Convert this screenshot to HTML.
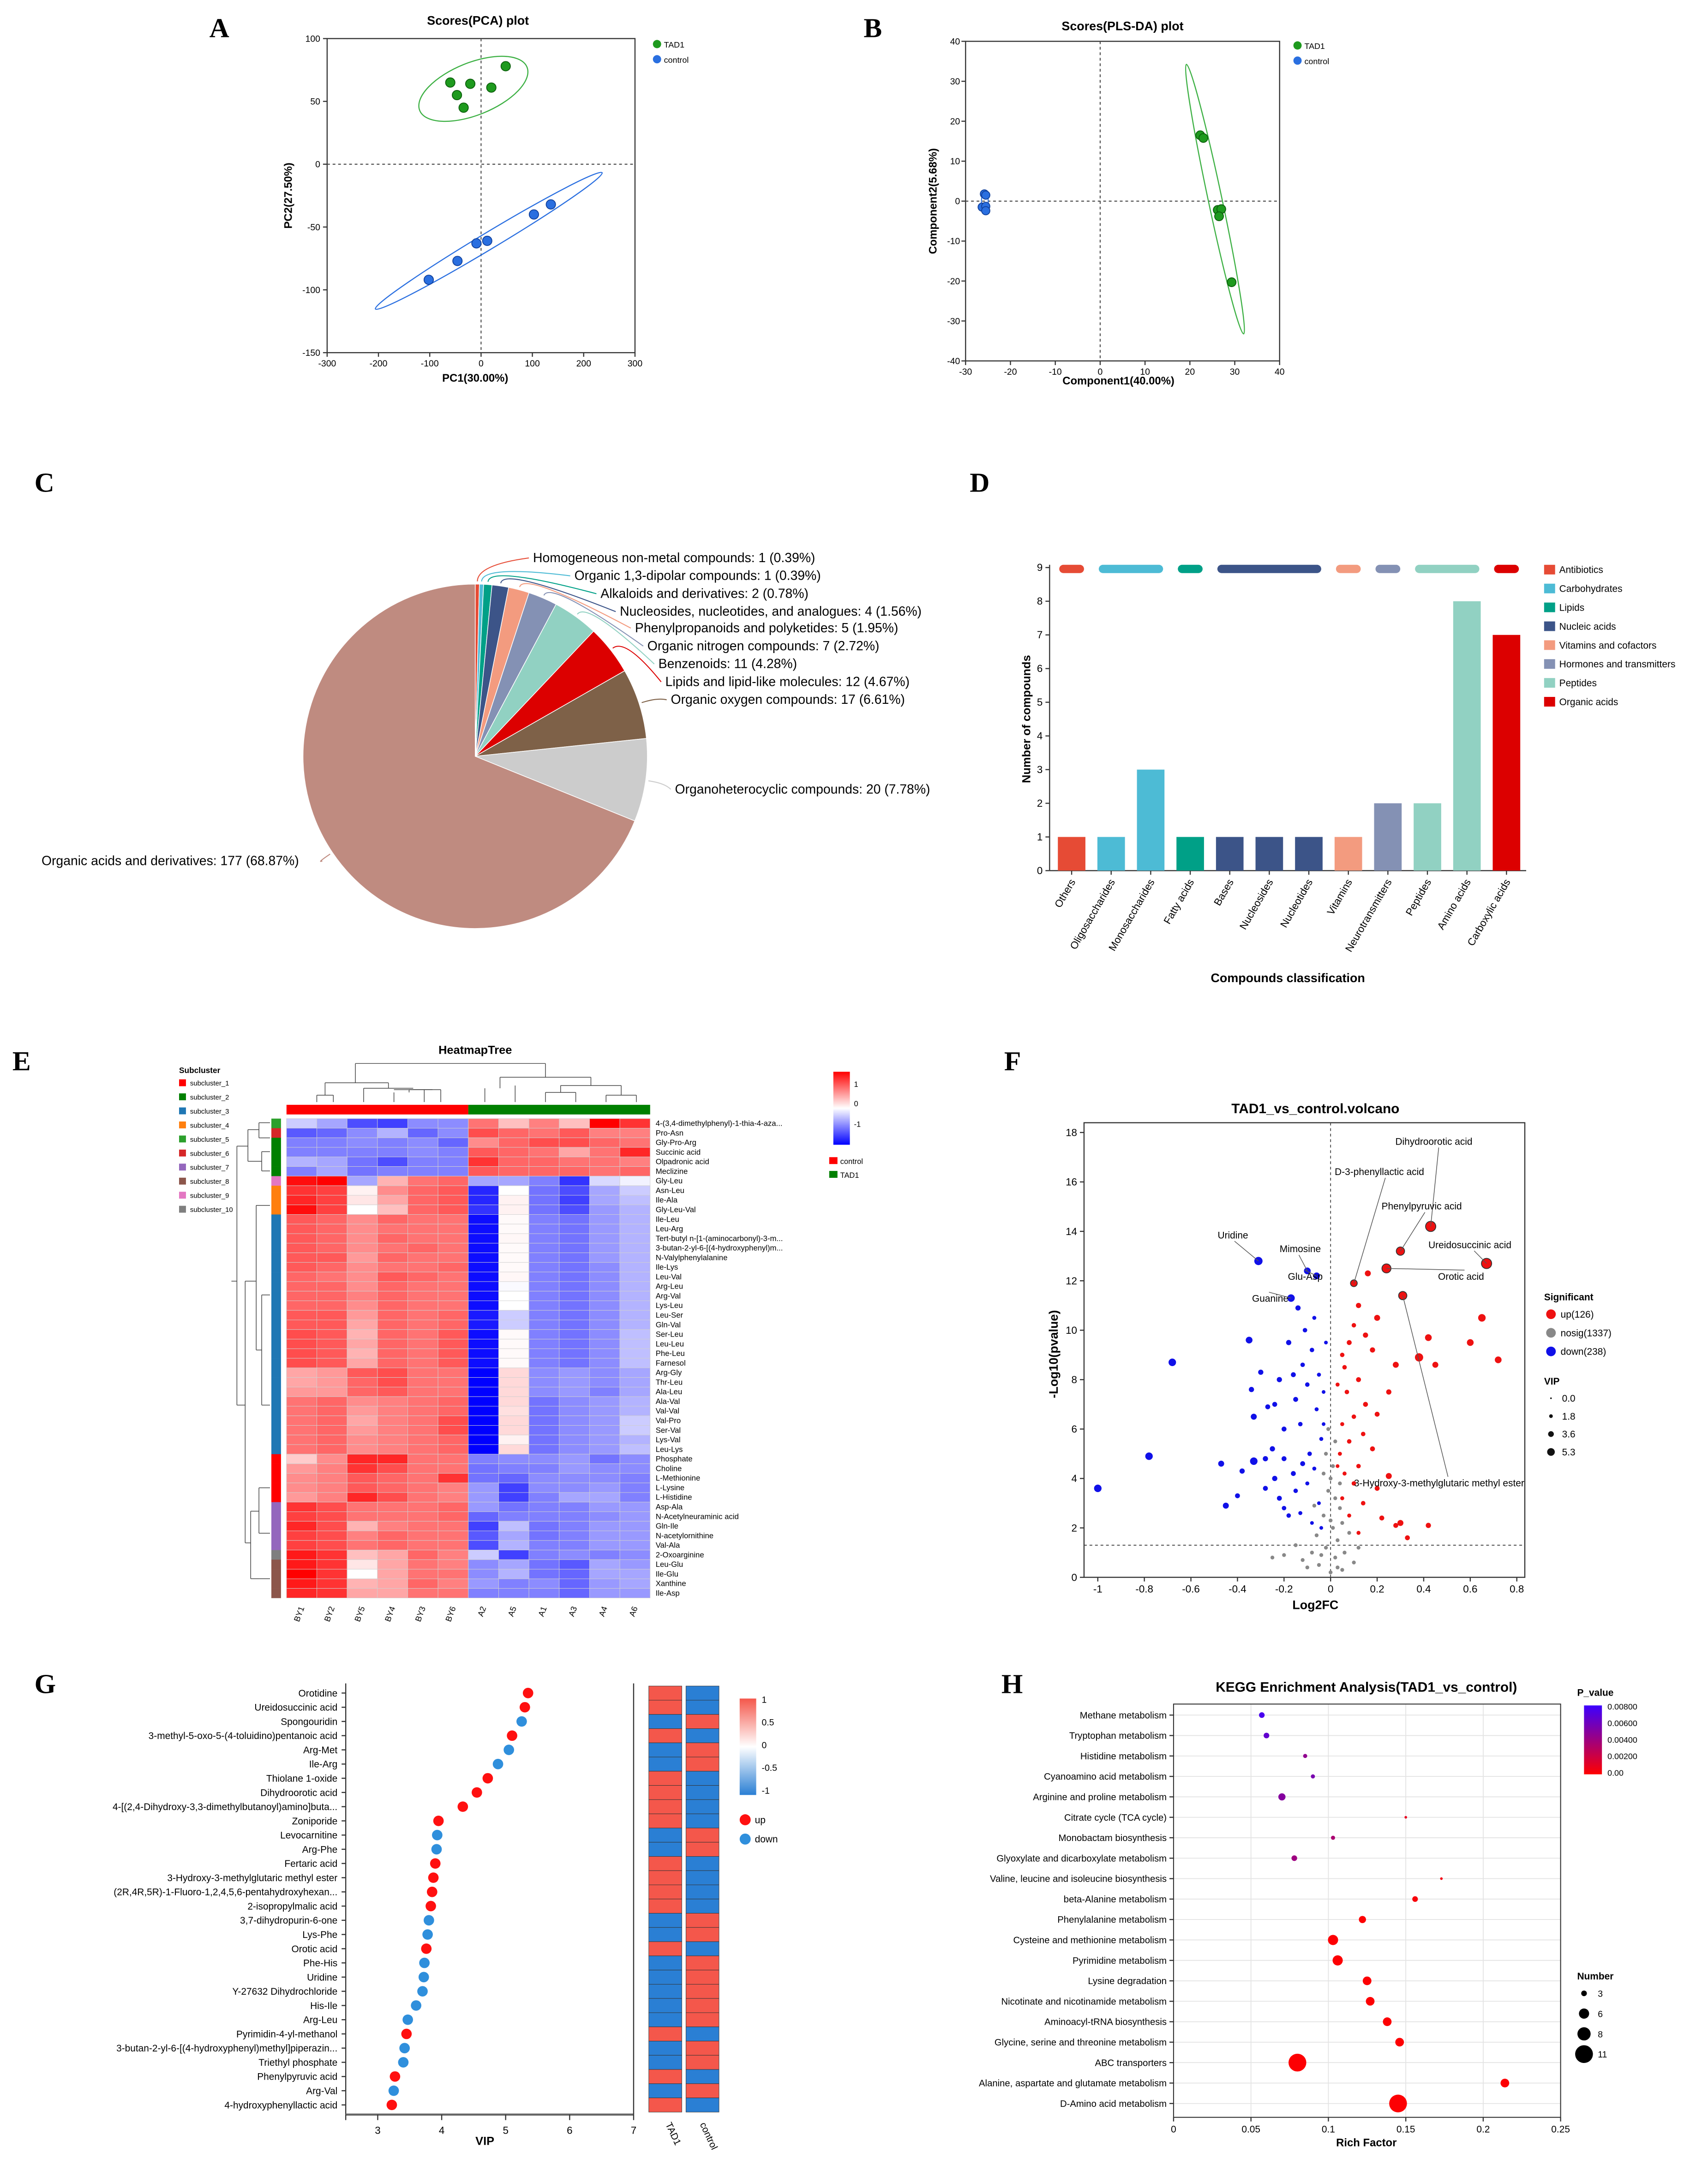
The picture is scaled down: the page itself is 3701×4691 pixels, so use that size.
<!DOCTYPE html>
<html><head><meta charset="utf-8"><style>
html,body{margin:0;padding:0;background:#fff;}
svg{display:block;font-family:"Liberation Sans",Arial,sans-serif;}
</style></head><body>
<svg id="fig" xmlns="http://www.w3.org/2000/svg" width="3701" height="4691" viewBox="0 0 1240 1571.6" preserveAspectRatio="none">
<rect x="0" y="0" width="1240" height="1571.6" fill="#fff"/>
<g font-family="Liberation Serif, serif" font-weight="bold" font-size="20">
<text x="152" y="27">A</text>
<text x="627" y="27">B</text>
<text x="25" y="357">C</text>
<text x="704" y="357">D</text>
<text x="9" y="777">E</text>
<text x="729" y="777">F</text>
<text x="25" y="1229">G</text>
<text x="727" y="1229">H</text>
</g>
</svg>
<script>
// ---------- Panel A data ----------
const pcaTadX=[-60,-47,-21,-34,20,48];
const pcaTadY=[65,55,64,45,61,78];
const pcaCtrlX=[-102,-46,-9,12,103,136];
const pcaCtrlY=[-92,-77,-63,-61,-40,-32];
const pcaXTicks=[-300,-200,-100,0,100,200,300];
const pcaYTicks=[-150,-100,-50,0,50,100];
// ---------- Panel B data ----------
const plsTadX=[22.3,23,26.2,27,26.5,29.3];
const plsTadY=[16.5,15.8,-2.2,-2,-3.8,-20.3];
const plsCtrlX=[-25.8,-25.5,-26.3,-25.5,-25.5];
const plsCtrlY=[1.8,1.5,-1.5,-1.3,-2.4];
const plsXTicks=[-30,-20,-10,0,10,20,30,40];
const plsYTicks=[-40,-30,-20,-10,0,10,20,30,40];
// ---------- Panel C data ----------
const pieLabels=["Homogeneous non-metal compounds: 1 (0.39%)","Organic 1,3-dipolar compounds: 1 (0.39%)","Alkaloids and derivatives: 2 (0.78%)","Nucleosides, nucleotides, and analogues: 4 (1.56%)","Phenylpropanoids and polyketides: 5 (1.95%)","Organic nitrogen compounds: 7 (2.72%)","Benzenoids: 11 (4.28%)","Lipids and lipid-like molecules: 12 (4.67%)","Organic oxygen compounds: 17 (6.61%)","Organoheterocyclic compounds: 20 (7.78%)","Organic acids and derivatives: 177 (68.87%)"];
const pieValues=[1,1,2,4,5,7,11,12,17,20,177];
const pieColors=['#e64b35','#4dbbd5','#00a087','#3c5488','#f39b7f','#8491b4','#91d1c2','#dc0000','#7e6148','#cccccc','#bf8b80'];
// ---------- Panel D data ----------
const barCats=["Others","Oligosaccharides","Monosaccharides","Fatty acids","Bases","Nucleosides","Nucleotides","Vitamins","Neurotransmitters","Peptides","Amino acids","Carboxylic acids"];
const barValues=[1,1,3,1,1,1,1,1,2,2,8,7];
const barGroup=[0,1,1,2,3,3,3,4,5,6,6,7];
const groupNames=["Antibiotics","Carbohydrates","Lipids","Nucleic acids","Vitamins and cofactors","Hormones and transmitters","Peptides","Organic acids"];
const groupColors=['#e64b35','#4dbbd5','#00a087','#3c5488','#f39b7f','#8491b4','#91d1c2','#dc0000'];
const barYTicks=[0,1,2,3,4,5,6,7,8,9];
// ---------- Panel E data ----------
const hmCols=["BY1","BY2","BY5","BY4","BY3","BY6","A2","A5","A1","A3","A4","A6"];
const hmRows=["4-(3,4-dimethylphenyl)-1-thia-4-aza...","Pro-Asn","Gly-Pro-Arg","Succinic acid","Olpadronic acid","Meclizine","Gly-Leu","Asn-Leu","Ile-Ala","Gly-Leu-Val","Ile-Leu","Leu-Arg","Tert-butyl n-[1-(aminocarbonyl)-3-m...","3-butan-2-yl-6-[(4-hydroxyphenyl)m...","N-Valylphenylalanine","Ile-Lys","Leu-Val","Arg-Leu","Arg-Val","Lys-Leu","Leu-Ser","Gln-Val","Ser-Leu","Leu-Leu","Phe-Leu","Farnesol","Arg-Gly","Thr-Leu","Ala-Leu","Ala-Val","Val-Val","Val-Pro","Ser-Val","Lys-Val","Leu-Lys","Phosphate","Choline","L-Methionine","L-Lysine","L-Histidine","Asp-Ala","N-Acetylneuraminic acid","Gln-Ile","N-acetylornithine","Val-Ala","2-Oxoarginine","Leu-Glu","Ile-Glu","Xanthine","Ile-Asp"];
const hmCluster=[5,6,2,2,2,2,9,4,4,4,3,3,3,3,3,3,3,3,3,3,3,3,3,3,3,3,3,3,3,3,3,3,3,3,3,1,1,1,1,1,7,7,7,7,7,10,8,8,8,8];
const hmValues=[
[-.2,-.35,-.7,-.75,-.45,-.45,.55,.25,.5,.25,1,.8],
[-.65,-.6,-.45,-.3,-.6,-.45,.7,.6,.55,.65,.5,.5],
[-.5,-.5,-.45,-.5,-.45,-.6,.45,.6,.7,.7,.6,.55],
[-.5,-.5,-.5,-.5,-.45,-.5,.65,.6,.55,.35,.55,.85],
[-.3,-.35,-.55,-.7,-.5,-.5,.8,.6,.6,.55,.55,.5],
[-.5,-.35,-.55,-.5,-.5,-.5,.65,.6,.6,.6,.55,.6],
[.95,1,-.35,.3,.55,.6,-.35,-.35,-.5,-.8,-.15,-.05],
[.8,.75,.05,.45,.6,.65,-.85,0,-.55,-.7,-.35,-.2],
[.85,.75,.1,.35,.6,.65,-.85,.05,-.55,-.75,-.35,-.25],
[.95,.75,0,.25,.6,.65,-.8,.05,-.55,-.7,-.4,-.3],
[.65,.6,.45,.6,.55,.55,-.95,.02,-.5,-.55,-.4,-.3],
[.65,.6,.45,.55,.55,.55,-.95,.02,-.5,-.55,-.4,-.3],
[.65,.6,.45,.6,.55,.55,-.95,.03,-.5,-.55,-.4,-.3],
[.65,.6,.45,.55,.6,.55,-.95,.02,-.5,-.55,-.4,-.3],
[.65,.65,.4,.6,.55,.55,-.95,.02,-.5,-.55,-.4,-.3],
[.65,.6,.45,.55,.55,.6,-.95,.02,-.5,-.55,-.45,-.3],
[.6,.55,.45,.65,.6,.55,-.95,.03,-.5,-.55,-.45,-.3],
[.6,.6,.45,.6,.55,.55,-.95,-.02,-.5,-.55,-.45,-.3],
[.6,.6,.5,.6,.55,.55,-.95,0,-.5,-.55,-.45,-.3],
[.6,.6,.45,.6,.55,.55,-.95,0,-.5,-.55,-.45,-.3],
[.65,.65,.4,.6,.55,.6,-.9,-.2,-.5,-.55,-.45,-.3],
[.65,.65,.35,.6,.55,.6,-.9,-.2,-.5,-.55,-.45,-.3],
[.7,.65,.3,.6,.55,.65,-.95,.02,-.5,-.55,-.45,-.25],
[.7,.65,.35,.6,.55,.65,-.95,.02,-.5,-.55,-.45,-.25],
[.7,.65,.3,.6,.55,.65,-.95,.02,-.5,-.55,-.45,-.25],
[.7,.65,.35,.6,.55,.65,-.95,.02,-.5,-.55,-.45,-.25],
[.35,.4,.65,.7,.55,.55,-1,.15,-.45,-.4,-.45,-.35],
[.35,.4,.6,.7,.55,.55,-1,.15,-.45,-.4,-.45,-.35],
[.4,.4,.6,.65,.55,.55,-1,.15,-.45,-.4,-.5,-.35],
[.55,.6,.45,.5,.55,.6,-1,.15,-.55,-.45,-.4,-.3],
[.55,.6,.4,.5,.55,.6,-1,.12,-.55,-.45,-.4,-.3],
[.55,.6,.35,.5,.55,.7,-1,.15,-.55,-.45,-.4,-.2],
[.55,.6,.4,.5,.55,.7,-1,.15,-.55,-.45,-.4,-.2],
[.55,.6,.45,.5,.55,.6,-1,.05,-.55,-.45,-.4,-.3],
[.55,.6,.45,.5,.55,.6,-1,.15,-.55,-.45,-.4,-.25],
[.2,.45,.85,.85,.55,.55,-.5,-.45,-.45,-.4,-.55,-.45],
[.4,.5,.8,.7,.55,.55,-.55,-.5,-.5,-.4,-.45,-.45],
[.45,.5,.65,.6,.55,.8,-.55,-.6,-.45,-.45,-.45,-.5],
[.45,.5,.65,.6,.55,.5,-.4,-.75,-.45,-.45,-.4,-.5],
[.4,.5,.85,.7,.55,.5,-.4,-.75,-.5,-.35,-.35,-.5],
[.8,.7,.55,.55,.55,.6,-.4,-.55,-.5,-.5,-.4,-.4],
[.75,.7,.55,.55,.55,.6,-.6,-.5,-.5,-.5,-.45,-.4],
[.85,.7,.3,.5,.55,.55,-.75,-.25,-.55,-.5,-.4,-.4],
[.75,.7,.5,.6,.55,.55,-.65,-.35,-.55,-.5,-.4,-.4],
[.75,.7,.55,.6,.55,.55,-.7,-.3,-.5,-.5,-.4,-.4],
[.9,.8,.25,.35,.6,.5,-.2,-.75,-.5,-.45,-.5,-.45],
[.9,.8,.1,.35,.55,.5,-.45,-.35,-.55,-.65,-.35,-.4],
[1,.8,0,.35,.55,.55,-.45,-.3,-.55,-.6,-.35,-.35],
[.9,.8,.3,.35,.6,.5,-.4,-.5,-.45,-.6,-.4,-.35],
[.85,.8,.35,.35,.55,.55,-.5,-.5,-.5,-.6,-.4,-.4]];
const clusterColors=['#ff0000','#008000','#1f77b4','#ff7f0e','#2ca02c','#d62728','#9467bd','#8c564b','#e377c2','#7f7f7f'];
// ---------- Panel F data ----------
const upX=[0.43,0.1,0.3,0.67,0.24,0.31,0.65,0.6,0.72,0.45,0.42,0.38,0.28,0.2,0.15,0.12,0.1,0.08,0.05,0.18,0.12,0.07,0.15,0.2,0.1,0.05,0.14,0.08,0.18,0.04,0.12,0.06,0.25,0.2,0.1,0.14,0.05,0.22,0.3,0.33,0.42,0.28,0.08,0.12,0.03,0.06,0.25,0.03,0.16];
const upY=[14.2,11.9,13.2,12.7,12.5,11.4,10.5,9.5,8.8,8.6,9.7,8.9,8.6,10.5,9.8,11,10.2,9.5,9,9.2,8,7.5,7,6.6,6.5,6.2,5.8,5.5,5.2,5,4.5,4.2,4.1,3.6,3.8,3,3.2,2.4,2.2,1.6,2.1,2.1,2.5,1.8,7.8,8.5,7.5,4.5,12.3];
const upVip=[5.3,3,4,5.3,4.5,4,3.5,3,3,2.5,3,4,2.5,2.5,2,2,1.5,1.8,1.5,2,1.8,1.5,1.8,1.8,1.5,1.2,1.5,1.5,1.8,1.2,1.5,1.2,2.5,1.8,1.5,1.5,1.2,1.8,2.5,1.8,2,1.8,1.2,1.2,1.2,1.5,2,1,2.5];
const downX=[-0.31,-0.1,-0.06,-0.17,-0.14,-1,-0.78,-0.68,-0.45,-0.47,-0.35,-0.33,-0.33,-0.34,-0.3,-0.27,-0.25,-0.22,-0.2,-0.18,-0.15,-0.12,-0.1,-0.08,-0.06,-0.05,-0.04,-0.09,-0.12,-0.16,-0.2,-0.24,-0.28,-0.22,-0.15,-0.1,-0.07,-0.05,-0.13,-0.08,-0.18,-0.03,-0.03,-0.11,-0.07,-0.16,-0.28,-0.38,-0.4,-0.2,-0.04,-0.02,-0.13,-0.24];
const downY=[12.8,12.4,12.2,11.3,10.9,3.6,4.9,8.7,2.9,4.6,9.6,6.5,4.7,7.6,8.3,6.9,5.2,8,6,9.5,7.2,8.6,7.8,9.2,6.8,8.2,5.6,5,4.6,4.2,4.8,4,3.6,3.2,3.5,3.8,4.4,3,2.6,2.2,2.5,6.2,7.5,10,10.5,8.2,4.8,4.3,3.3,2.8,2,9.5,6.2,7];
const downVip=[4,3,3,3.5,2,3.5,3.5,3.5,2.5,2.5,3,2.5,3.5,2,2,1.8,2,2,1.8,2,1.8,1.5,1.5,1.5,1.2,1.2,1.2,1.5,1.8,1.8,1.8,2,1.8,1.8,1.5,1.2,1.2,1,1.2,1,1.5,1,1,1.5,1.2,1.8,2,2,1.8,1.5,1,1,1.5,1.8];
const nsX=[-0.05,0.02,-0.02,0.03,-0.08,0.05,-0.1,0.01,-0.03,0.04,0.02,-0.01,0.06,-0.12,0.1,-0.15,0.08,-0.06,0,-0.04,0.03,-0.2,0.12,0,0.01,-0.02,0,-0.07,0.05,-0.25,0.02,-0.01,0.04,-0.03];
const nsY=[0.5,0.8,1.2,1.5,1,0.3,0.4,2,2.5,2.8,3.2,3.5,1,0.7,0.6,1.3,1.8,1.7,0.2,0.9,0.4,0.9,1.2,4,4.5,5,2.3,2.9,2.2,0.8,5.5,6,3.8,4.2];
const volXTicks=[-1,-0.8,-0.6,-0.4,-0.2,0,0.2,0.4,0.6,0.8];
const volYTicks=[0,2,4,6,8,10,12,14,16,18];
const vipLegend=[0.0,1.8,3.6,5.3];
// ---------- Panel G data ----------
const vipNames=["Orotidine","Ureidosuccinic acid","Spongouridin","3-methyl-5-oxo-5-(4-toluidino)pentanoic acid","Arg-Met","Ile-Arg","Thiolane 1-oxide","Dihydroorotic acid","4-[(2,4-Dihydroxy-3,3-dimethylbutanoyl)amino]buta...","Zoniporide","Levocarnitine","Arg-Phe","Fertaric acid","3-Hydroxy-3-methylglutaric methyl ester","(2R,4R,5R)-1-Fluoro-1,2,4,5,6-pentahydroxyhexan...","2-isopropylmalic acid","3,7-dihydropurin-6-one","Lys-Phe","Orotic acid","Phe-His","Uridine","Y-27632 Dihydrochloride","His-Ile","Arg-Leu","Pyrimidin-4-yl-methanol","3-butan-2-yl-6-[(4-hydroxyphenyl)methyl]piperazin...","Triethyl phosphate","Phenylpyruvic acid","Arg-Val","4-hydroxyphenyllactic acid"];
const vipValues=[5.35,5.3,5.25,5.1,5.05,4.88,4.72,4.55,4.33,3.95,3.93,3.92,3.9,3.87,3.85,3.83,3.8,3.78,3.76,3.73,3.72,3.7,3.6,3.47,3.45,3.42,3.4,3.27,3.25,3.22];
const vipUp=[1,1,0,1,0,0,1,1,1,1,0,0,1,1,1,1,0,0,1,0,0,0,0,0,1,0,0,1,0,1];
const vipTicks=[3,4,5,6,7];
// ---------- Panel H data ----------
const keggNames=["Methane metabolism","Tryptophan metabolism","Histidine metabolism","Cyanoamino acid metabolism","Arginine and proline metabolism","Citrate cycle (TCA cycle)","Monobactam biosynthesis","Glyoxylate and dicarboxylate metabolism","Valine, leucine and isoleucine biosynthesis","beta-Alanine metabolism","Phenylalanine metabolism","Cysteine and methionine metabolism","Pyrimidine metabolism","Lysine degradation","Nicotinate and nicotinamide metabolism","Aminoacyl-tRNA biosynthesis","Glycine, serine and threonine metabolism","ABC transporters","Alanine, aspartate and glutamate metabolism","D-Amino acid metabolism"];
const keggRich=[0.057,0.06,0.085,0.09,0.07,0.15,0.103,0.078,0.173,0.156,0.122,0.103,0.106,0.125,0.127,0.138,0.146,0.08,0.214,0.145];
const keggP=[0.0075,0.0065,0.0045,0.0055,0.005,0.001,0.0035,0.004,0.0005,0.0003,0.0001,0.0001,0.0001,0.0001,0.0001,0.0001,0.0001,0.0001,0.0001,0.0001];
const keggNum=[3,3,2,2,4,1,2,3,1,3,4,6,6,5,5,5,5,11,5,11];
const keggXTicks=[0,0.05,0.1,0.15,0.2,0.25];
const numLegend=[3,6,8,11];

const NS='http://www.w3.org/2000/svg';
const svg=document.getElementById('fig');
function mk(tag,attrs,name,parent){
  const e=document.createElementNS(NS,tag);
  for(const k in attrs) e.setAttribute(k,attrs[k]);
  
  
  (parent||svg).appendChild(e);
  return e;
}
function txt(x,y,s,size,name,opts){
  const t=mk('text',Object.assign({x:x,y:y,'font-size':size},opts||{}),name);
  t.textContent=s; return t;
}
function line(x1,y1,x2,y2,name,st,w,dash){
  const a={x1:x1,y1:y1,x2:x2,y2:y2,stroke:st||'#333','stroke-width':w||0.8};
  if(dash) a['stroke-dasharray']=dash;
  return mk('line',a,name);
}
function lin(d0,d1,r0,r1){return v=>r0+(v-d0)/(d1-d0)*(r1-r0);}

// ===== Panel A =====
(function(){
  const L=237.5,R=461,T=28,B=256;
  const ax=lin(-300,300,L,R), ay=lin(-150,100,B,T);
  txt(347,18,'Scores(PCA) plot',9,'pca-title',{'font-weight':'bold','text-anchor':'middle'});
  mk('rect',{x:L,y:T,width:R-L,height:B-T,fill:'none',stroke:'#333','stroke-width':0.8},'pca-frame');
  pcaXTicks.forEach(v=>{line(ax(v),B,ax(v),B+3,'pca-x-tick');txt(ax(v),B+10,String(v),6.5,'pca-x-tick-label',{'text-anchor':'middle'});});
  pcaYTicks.forEach(v=>{line(L-3,ay(v),L,ay(v),'pca-y-tick');txt(L-5,ay(v)+2.3,String(v),6.5,'pca-y-tick-label',{'text-anchor':'end'});});
  line(ax(0),T,ax(0),B,'pca-zero-vline','#444',0.7,'2,2');
  line(L,ay(0),R,ay(0),'pca-zero-hline','#444',0.7,'2,2');
  txt(345,277,'PC1(30.00%)',8,'pca-x-title',{'font-weight':'bold','text-anchor':'middle'});
  txt(212,142,'PC2(27.50%)',8,'pca-y-title',{'font-weight':'bold','text-anchor':'middle',transform:'rotate(-90 212 142)'});
  const gcx=ax(-15),gcy=ay(60);
  mk('ellipse',{cx:gcx,cy:gcy,rx:42,ry:19,fill:'none',stroke:'#3cb043','stroke-width':0.8,transform:`rotate(-22 ${gcx} ${gcy})`},'pca-tad1-ellipse');
  const bcx=ax(15),bcy=ay(-61);
  mk('ellipse',{cx:bcx,cy:bcy,rx:96,ry:6,fill:'none',stroke:'#2a6fe0','stroke-width':0.8,transform:`rotate(-31 ${bcx} ${bcy})`},'pca-control-ellipse');
  pcaTadX.forEach((v,i)=>{mk('circle',{cx:ax(v),cy:ay(pcaTadY[i]),r:3.4,fill:'#1e9a1e',stroke:'#0b5e0b','stroke-width':0.6},'pca-tad1-point');});
  pcaCtrlX.forEach((v,i)=>{mk('circle',{cx:ax(v),cy:ay(pcaCtrlY[i]),r:3.4,fill:'#2a6fe0',stroke:'#103f9a','stroke-width':0.6},'pca-control-point');});
  mk('circle',{cx:477,cy:32,r:3,fill:'#1e9a1e'},'pca-legend-tad1-marker');txt(482,34.5,'TAD1',6,'pca-legend-tad1');
  mk('circle',{cx:477,cy:43,r:3,fill:'#2a6fe0'},'pca-legend-control-marker');txt(482,45.5,'control',6,'pca-legend-control');
})();

// ===== Panel B =====
(function(){
  const L=701,R=929,T=30,B=262;
  const bx=lin(-30,40,L,R), by=lin(-40,40,B,T);
  txt(815,22,'Scores(PLS-DA) plot',9,'pls-title',{'font-weight':'bold','text-anchor':'middle'});
  mk('rect',{x:L,y:T,width:R-L,height:B-T,fill:'none',stroke:'#333','stroke-width':0.8},'pls-frame');
  plsXTicks.forEach(v=>{line(bx(v),B,bx(v),B+3,'pls-x-tick');txt(bx(v),B+10,String(v),6.5,'pls-x-tick-label',{'text-anchor':'middle'});});
  plsYTicks.forEach(v=>{line(L-3,by(v),L,by(v),'pls-y-tick');txt(L-4,by(v)+2.3,String(v),6.5,'pls-y-tick-label',{'text-anchor':'end'});});
  line(bx(0),T,bx(0),B,'pls-zero-vline','#444',0.7,'2,2');
  line(L,by(0),R,by(0),'pls-zero-hline','#444',0.7,'2,2');
  txt(812,279,'Component1(40.00%)',8,'pls-x-title',{'font-weight':'bold','text-anchor':'middle'});
  txt(680,146,'Component2(5.68%)',8,'pls-y-title',{'font-weight':'bold','text-anchor':'middle',transform:'rotate(-90 680 146)'});
  const gcx=bx(25.6),gcy=by(0.5);
  mk('ellipse',{cx:gcx,cy:gcy,rx:100,ry:5,fill:'none',stroke:'#3cb043','stroke-width':0.8,transform:`rotate(78 ${gcx} ${gcy})`},'pls-tad1-ellipse');
  mk('ellipse',{cx:bx(-25.7),cy:by(-0.3),rx:2.5,ry:8,fill:'none',stroke:'#2a6fe0','stroke-width':0.7},'pls-control-ellipse');
  plsTadX.forEach((v,i)=>{mk('circle',{cx:bx(v),cy:by(plsTadY[i]),r:3.2,fill:'#1e9a1e',stroke:'#0b5e0b','stroke-width':0.6},'pls-tad1-point');});
  plsCtrlX.forEach((v,i)=>{mk('circle',{cx:bx(v),cy:by(plsCtrlY[i]),r:3,fill:'#2a6fe0',stroke:'#103f9a','stroke-width':0.6},'pls-control-point');});
  mk('circle',{cx:942,cy:33,r:3,fill:'#1e9a1e'},'pls-legend-tad1-marker');txt(947,35.5,'TAD1',6,'pls-legend-tad1');
  mk('circle',{cx:942,cy:44,r:3,fill:'#2a6fe0'},'pls-legend-control-marker');txt(947,46.5,'control',6,'pls-legend-control');
})();

// ===== Panel C =====
(function(){
  const cx=345,cy=549,r=125;
  const total=pieValues.reduce((a,b)=>a+b,0);
  const lx=[387,417,436,450,461,470,478,483,487,490,20];
  const ly=[408,421,434,447,459,472,485,498,511,576,628];
  let a0=-Math.PI/2;
  pieValues.forEach((v,i)=>{
    const a1=a0+v/total*2*Math.PI;
    const large=(a1-a0)>Math.PI?1:0;
    const p=`M${cx},${cy} L${cx+r*Math.cos(a0)},${cy+r*Math.sin(a0)} A${r},${r} 0 ${large} 1 ${cx+r*Math.cos(a1)},${cy+r*Math.sin(a1)} Z`;
    mk('path',{d:p,fill:pieColors[i],stroke:'#fff','stroke-width':0.5},'pie-slice');
    const am=(a0+a1)/2;
    const sx=cx+(r+2)*Math.cos(am), sy=cy+(r+2)*Math.sin(am);
    let ex,ey;
    if(i===10){ex=234;ey=ly[i]-3;}else{ex=lx[i]-3;ey=ly[i]-3;}
    const qx=cx+(r+14)*Math.cos(am), qy=cy+(r+14)*Math.sin(am);
    mk('path',{d:`M${sx},${sy} Q${qx},${qy} ${ex},${ey}`,fill:'none',stroke:pieColors[i],'stroke-width':0.7},'pie-leader-line');
    if(i===10) txt(217,ly[i],pieLabels[i],9.5,'pie-label',{'text-anchor':'end'});
    else txt(lx[i],ly[i],pieLabels[i],9.5,'pie-label');
    a0=a1;
  });
})();

// ===== Panel D =====
(function(){
  const dx=i=>778+i*28.7, dy=lin(0,9,632,412);
  line(762,410,762,632,'bar-y-axis');line(762,632,1108,632,'bar-x-axis');
  barYTicks.forEach(v=>{line(759,dy(v),762,dy(v),'bar-y-tick');txt(757,dy(v)+2.5,String(v),7.5,'bar-y-tick-label',{'text-anchor':'end'});});
  barValues.forEach((v,i)=>{
    mk('rect',{x:dx(i)-10,y:dy(v),width:20,height:dy(0)-dy(v),fill:groupColors[barGroup[i]]},'bar-'+barCats[i].toLowerCase().replace(/ /g,'-'));
    line(dx(i),632,dx(i),635,'bar-x-tick');
    txt(dx(i)+3,640,barCats[i],7.5,'bar-category-label',{'text-anchor':'end',transform:`rotate(-60 ${dx(i)+3} 640)`});
  });
  let s=0;
  for(let i=1;i<=barGroup.length;i++){
    if(i===barGroup.length||barGroup[i]!==barGroup[s]){
      mk('rect',{x:dx(s)-9,y:410,width:dx(i-1)-dx(s)+18,height:6,rx:3,fill:groupColors[barGroup[s]]},'bar-group-pill');
      s=i;
    }
  }
  txt(748,522,'Number of compounds',8.5,'bar-y-title',{'font-weight':'bold','text-anchor':'middle',transform:'rotate(-90 748 522)'});
  txt(935,713,'Compounds classification',9,'bar-x-title',{'font-weight':'bold','text-anchor':'middle'});
  groupNames.forEach((n,i)=>{
    const y=414+i*13.7;
    mk('rect',{x:1121,y:y-4,width:8,height:7,fill:groupColors[i]},'bar-legend-swatch');
    txt(1132,y+2,n,7,'bar-legend-label');
  });
})();

// ===== Panel E =====
(function(){
  function col(v){
    if(v>=0){const t=Math.min(v,1);return `rgb(255,${Math.round(255*(1-t))},${Math.round(255*(1-t))})`;}
    const t=Math.min(-v,1);return `rgb(${Math.round(255*(1-t))},${Math.round(255*(1-t))},255)`;
  }
  const x0=208,y0=812,cw=22,ch=6.96;
  txt(345,765,'HeatmapTree',8.5,'heatmap-title',{'font-weight':'bold','text-anchor':'middle'});
  hmValues.forEach((row,r)=>{
    row.forEach((v,c)=>{
      mk('rect',{x:x0+c*cw,y:y0+r*ch,width:cw,height:ch,fill:col(v),stroke:'#d0d0d0','stroke-width':0.3},'heatmap-cell');
    });
    txt(x0+12*cw+4,y0+r*ch+5.3,hmRows[r],5.6,'heatmap-row-label');
    mk('rect',{x:197,y:y0+r*ch,width:7,height:ch+0.1,fill:clusterColors[hmCluster[r]-1]},'heatmap-subcluster-bar');
  });
  hmCols.forEach((c,i)=>{
    const x=x0+i*cw+cw/2+2;
    txt(x,1167,c,6,'heatmap-col-label',{'text-anchor':'end',transform:`rotate(-70 ${x} 1167)`});
  });
  mk('rect',{x:x0,y:802,width:6*cw,height:7,fill:'#ff0000'},'heatmap-group-control');
  mk('rect',{x:x0+6*cw,y:802,width:6*cw,height:7,fill:'#008000'},'heatmap-group-tad1');
  const dd=[[230,800,230,795],[242,800,242,795],[230,795,242,795],[264,800,264,790],[286,800,286,793],[308,800,308,791],[297,793,297,791],[297,791,308,791],[308,791,320,791],[320,800,320,791],[286,791,314,791],[264,790,300,790],[236,795,236,786],[282,790,282,786],[236,786,282,786],[258,786,258,772],[352,800,352,790],[374,800,374,788],[396,800,396,793],[418,800,418,793],[396,793,418,793],[440,800,440,795],[462,800,462,795],[440,795,462,795],[407,793,407,788],[451,795,451,788],[407,788,451,788],[429,788,429,782],[363,790,363,782],[363,782,429,782],[396,782,396,772],[258,772,396,772]];
  dd.forEach(d=>line(d[0],d[1],d[2],d[3],'heatmap-col-dendrogram','#444',0.5));
  const rd=[[196,815,188,815],[196,826,188,826],[188,815,188,826],[188,820,180,820],[196,836,190,836],[196,850,190,850],[190,836,190,850],[190,843,180,843],[180,820,180,843],[180,832,172,832],[196,875,186,875],[196,940,190,940],[196,1020,190,1020],[190,940,190,1020],[190,980,186,980],[186,875,186,980],[186,930,178,930],[196,1080,188,1080],[196,1113,188,1113],[188,1080,188,1113],[188,1097,182,1097],[196,1146,188,1146],[188,1146,182,1146],[182,1097,182,1146],[182,1120,178,1120],[178,930,178,1120],[178,1020,172,1020],[172,832,172,1020],[172,930,168,930]];
  rd.forEach(d=>line(d[0],d[1],d[2],d[3],'heatmap-row-dendrogram','#444',0.5));
  txt(130,779,'Subcluster',5.8,'subcluster-legend-title',{'font-weight':'bold'});
  clusterColors.forEach((c,i)=>{
    const y=787+i*10.2;
    mk('rect',{x:130,y:y-3.5,width:5,height:5,fill:c},'subcluster-legend-swatch');
    txt(138,y+1,'subcluster_'+(i+1),5,'subcluster-legend-label');
  });
  const g=mk('linearGradient',{id:'hmgrad',x1:0,y1:0,x2:0,y2:1},'heatmap-gradient-def');
  mk('stop',{offset:'0','stop-color':'#ff0000'},'grad-stop',g);mk('stop',{offset:'0.5','stop-color':'#ffffff'},'grad-stop',g);mk('stop',{offset:'1','stop-color':'#0000ff'},'grad-stop',g);
  mk('rect',{x:605,y:778,width:12,height:53,fill:'url(#hmgrad)'},'heatmap-color-scale');
  txt(620,789,'1',5.5,'heatmap-scale-label');txt(620,803,'0',5.5,'heatmap-scale-label');txt(620,818,'-1',5.5,'heatmap-scale-label');
  mk('rect',{x:602,y:840,width:6,height:5,fill:'#ff0000'},'heatmap-legend-control-swatch');txt(610,845,'control',5.5,'heatmap-legend-control');
  mk('rect',{x:602,y:850,width:6,height:5,fill:'#008000'},'heatmap-legend-tad1-swatch');txt(610,855,'TAD1',5.5,'heatmap-legend-tad1');
})();

// ===== Panel F =====
(function(){
  const fx=lin(0,0.2,966,999.8), fy=lin(0,18,1145,822.1);
  txt(955,808,'TAD1_vs_control.volcano',10,'volcano-title',{'font-weight':'bold','text-anchor':'middle'});
  mk('rect',{x:787,y:815,width:320,height:330,fill:'none',stroke:'#333','stroke-width':0.8},'volcano-frame');
  volXTicks.forEach(v=>{line(fx(v),1145,fx(v),1148,'volcano-x-tick');txt(fx(v),1156,String(v),7.5,'volcano-x-tick-label',{'text-anchor':'middle'});});
  volYTicks.forEach(v=>{line(784,fy(v),787,fy(v),'volcano-y-tick');txt(782,fy(v)+2.6,String(v),7.5,'volcano-y-tick-label',{'text-anchor':'end'});});
  txt(955,1168,'Log2FC',9,'volcano-x-title',{'font-weight':'bold','text-anchor':'middle'});
  txt(768,983,'-Log10(pvalue)',9,'volcano-y-title',{'font-weight':'bold','text-anchor':'middle',transform:'rotate(-90 768 983)'});
  line(fx(0),815,fx(0),1145,'volcano-fc-threshold','#444',0.6,'2,2');
  line(787,fy(1.3),1107,fy(1.3),'volcano-p-threshold','#444',0.6,'2,2');
  const rad=v=>0.8+v*0.55;
  nsX.forEach((v,i)=>{mk('circle',{cx:fx(v),cy:fy(nsY[i]),r:1.4,fill:'#888'},'volcano-nosig-point');});
  downX.forEach((v,i)=>{mk('circle',{cx:fx(v),cy:fy(downY[i]),r:rad(downVip[i]),fill:'#1010e8'},'volcano-down-point');});
  upX.forEach((v,i)=>{mk('circle',{cx:fx(v),cy:fy(upY[i]),r:rad(upVip[i]),fill:'#ee1111',stroke:i<6?'#333':'none','stroke-width':0.6},'volcano-up-point');});
  const lab=[["Dihydroorotic acid",1013,831,0,'up'],["D-3-phenyllactic acid",969,853,1,'up'],["Phenylpyruvic acid",1003,878,2,'up'],["Ureidosuccinic acid",1037,906,3,'up'],["Orotic acid",1044,929,4,'up'],["3-Hydroxy-3-methylglutaric methyl ester",983,1079,5,'up'],["Uridine",884,899,0,'down'],["Mimosine",929,909,1,'down'],["Glu-Asp",935,929,2,'down'],["Guanine",909,945,3,'down']];
  lab.forEach(l=>{
    const px=l[4]==='up'?fx(upX[l[3]]):fx(downX[l[3]]);
    const py=l[4]==='up'?fy(upY[l[3]]):fy(downY[l[3]]);
    txt(l[1],l[2],l[0],7,'volcano-point-label');
    const w=l[0].length*3.5;
    line(l[1]+w/2,l[2]+(py>l[2]?2:-7),px,py,'volcano-label-leader','#555',0.5);
  });
  txt(1121,944,'Significant',7,'volcano-legend-title',{'font-weight':'bold'});
  const lg=[['up(126)','#ee1111'],['nosig(1337)','#888'],['down(238)','#1010e8']];
  lg.forEach((l,i)=>{mk('circle',{cx:1126,cy:954+i*13.5,r:3.5,fill:l[1]},'volcano-legend-marker');txt(1133,956.5+i*13.5,l[0],7,'volcano-legend-label');});
  txt(1121,1005,'VIP',7,'volcano-vip-legend-title',{'font-weight':'bold'});
  vipLegend.forEach((v,i)=>{mk('circle',{cx:1126,cy:1015+i*13,r:rad(v)*0.75,fill:'#111'},'volcano-vip-legend-marker');txt(1134,1017.5+i*13,v.toFixed(1),7,'volcano-vip-legend-label');});
})();

// ===== Panel G =====
(function(){
  const gx=lin(2.5,7,251,460), gy=i=>1229+i*10.31;
  line(251,1222,251,1535,'vip-y-axis');line(251,1535,460,1535,'vip-x-axis','#666',1.5);line(460,1222,460,1535,'vip-right-border');
  vipTicks.forEach(v=>{line(gx(v),1535,gx(v),1539,'vip-x-tick');txt(gx(v),1549,String(v),7.5,'vip-x-tick-label',{'text-anchor':'middle'});});
  line(251,1535,251,1539,'vip-x-tick');
  txt(352,1557,'VIP',8.5,'vip-x-title',{'font-weight':'bold','text-anchor':'middle'});
  vipNames.forEach((n,i)=>{
    const y=gy(i);
    line(248,y,251,y,'vip-y-tick');
    txt(245,y+2.5,n,7,'vip-row-label',{'text-anchor':'end'});
    mk('circle',{cx:gx(vipValues[i]),cy:y,r:3.8,fill:vipUp[i]?'#ff1010':'#2f8fdc'},vipUp[i]?'vip-up-dot':'vip-down-dot');
    const red='#f4574b',blue='#2a7fd4';
    mk('rect',{x:471,y:y-5.1,width:24,height:10.3,fill:vipUp[i]?red:blue,stroke:'#333','stroke-width':0.3},'vip-heat-tad1-cell');
    mk('rect',{x:498,y:y-5.1,width:24,height:10.3,fill:vipUp[i]?blue:red,stroke:'#333','stroke-width':0.3},'vip-heat-control-cell');
  });
  txt(483,1542,'TAD1',7,'vip-col-label-tad1',{transform:'rotate(65 483 1542)'});
  txt(508,1542,'control',7,'vip-col-label-control',{transform:'rotate(65 508 1542)'});
  const g=mk('linearGradient',{id:'vipgrad',x1:0,y1:0,x2:0,y2:1},'vip-gradient-def');
  mk('stop',{offset:'0','stop-color':'#f4574b'},'grad-stop',g);mk('stop',{offset:'0.5','stop-color':'#ffffff'},'grad-stop',g);mk('stop',{offset:'1','stop-color':'#2a7fd4'},'grad-stop',g);
  mk('rect',{x:537,y:1233,width:12,height:70,fill:'url(#vipgrad)'},'vip-color-scale');
  ['1','0.5','0','-0.5','-1'].forEach((s,i)=>txt(553,1236+i*16.5,s,6.5,'vip-scale-label'));
  mk('circle',{cx:541,cy:1321,r:4,fill:'#ff1010'},'vip-legend-up-marker');txt(548,1323.5,'up',7,'vip-legend-up');
  mk('circle',{cx:541,cy:1335,r:4,fill:'#2f8fdc'},'vip-legend-down-marker');txt(548,1337.5,'down',7,'vip-legend-down');
})();

// ===== Panel H =====
(function(){
  const hx=lin(0,0.25,852,1133), hy=i=>1245+i*14.84;
  txt(992,1228,'KEGG Enrichment Analysis(TAD1_vs_control)',10,'kegg-title',{'font-weight':'bold','text-anchor':'middle'});
  keggXTicks.forEach(v=>{line(hx(v),1237,hx(v),1537,'kegg-x-grid','#e3e3e3',0.6);line(hx(v),1537,hx(v),1540,'kegg-x-tick');txt(hx(v),1548,String(v),7,'kegg-x-tick-label',{'text-anchor':'middle'});});
  keggNames.forEach((n,i)=>{line(852,hy(i),1133,hy(i),'kegg-y-grid','#e3e3e3',0.6);line(849,hy(i),852,hy(i),'kegg-y-tick');txt(847,hy(i)+2.4,n,6.8,'kegg-pathway-label',{'text-anchor':'end'});});
  mk('rect',{x:852,y:1237,width:281,height:300,fill:'none',stroke:'#333','stroke-width':0.7},'kegg-frame');
  function pcol(p){const t=Math.min(p/0.008,1);return `rgb(${Math.round(255-195*t)},0,${Math.round(255*t)})`;}
  keggRich.forEach((v,i)=>{mk('circle',{cx:hx(v),cy:hy(i),r:0.55*keggNum[i]+0.4,fill:pcol(keggP[i])},'kegg-bubble');});
  txt(992,1558,'Rich Factor',8,'kegg-x-title',{'font-weight':'bold','text-anchor':'middle'});
  txt(1145,1231,'P_value',7,'kegg-p-legend-title',{'font-weight':'bold'});
  const g=mk('linearGradient',{id:'kgrad',x1:0,y1:0,x2:0,y2:1},'kegg-gradient-def');
  mk('stop',{offset:'0','stop-color':'rgb(60,0,255)'},'grad-stop',g);mk('stop',{offset:'1','stop-color':'#ff0000'},'grad-stop',g);
  mk('rect',{x:1150,y:1238,width:13,height:50,fill:'url(#kgrad)'},'kegg-p-color-scale');
  ['0.00800','0.00600','0.00400','0.00200','0.00'].forEach((s,i)=>txt(1167,1241+i*12,s,6,'kegg-p-scale-label'));
  txt(1145,1437,'Number',7,'kegg-number-legend-title',{'font-weight':'bold'});
  numLegend.forEach((n,i)=>{mk('circle',{cx:1150,cy:1447+i*14.7,r:0.55*n+0.4,fill:'#000'},'kegg-number-legend-marker');txt(1160,1449.5+i*14.7,String(n),6.5,'kegg-number-legend-label');});
})();
</script>
</body></html>
